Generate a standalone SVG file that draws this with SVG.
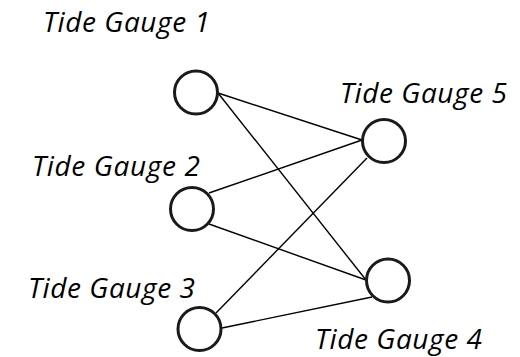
<svg xmlns="http://www.w3.org/2000/svg" width="520" height="357" viewBox="0 0 520 357">
<style>
.n{fill:#fff;stroke:#1a1a1a;stroke-width:3}
.l{fill:#000;font-family:"Open Sans","Liberation Sans",sans-serif;font-style:italic;font-size:28px}
.c{stroke:#000;stroke-width:1.4;fill:none}
</style>
<rect width="520" height="357" fill="#fff"/>
<g id="connectors">
<line class="c" x1="218" y1="93" x2="362" y2="140"/>
<line class="c" x1="218" y1="93" x2="366" y2="280"/>
<line class="c" x1="209" y1="193" x2="362" y2="140"/>
<line class="c" x1="209" y1="224" x2="366" y2="280"/>
<line class="c" x1="216" y1="313" x2="367" y2="158"/>
<line class="c" x1="222" y1="328" x2="372" y2="297"/>
</g>
<g id="tg1"><circle class="n" cx="196" cy="92.5" r="21.5"/><text class="l" x="43" y="32" textLength="167" lengthAdjust="spacing">Tide Gauge 1</text></g>
<g id="tg2"><circle class="n" cx="192" cy="209" r="21.5"/><text class="l" x="32" y="176" textLength="168" lengthAdjust="spacing">Tide Gauge 2</text></g>
<g id="tg3"><circle class="n" cx="199.5" cy="329" r="21.5"/><text class="l" x="28" y="298" textLength="167" lengthAdjust="spacing">Tide Gauge 3</text></g>
<g id="tg4"><circle class="n" cx="388" cy="280.5" r="21.5"/><text class="l" x="315" y="349" textLength="167" lengthAdjust="spacing">Tide Gauge 4</text></g>
<g id="tg5"><circle class="n" cx="384" cy="141" r="21.5"/><text class="l" x="340" y="102.5" textLength="167" lengthAdjust="spacing">Tide Gauge 5</text></g>
</svg>
